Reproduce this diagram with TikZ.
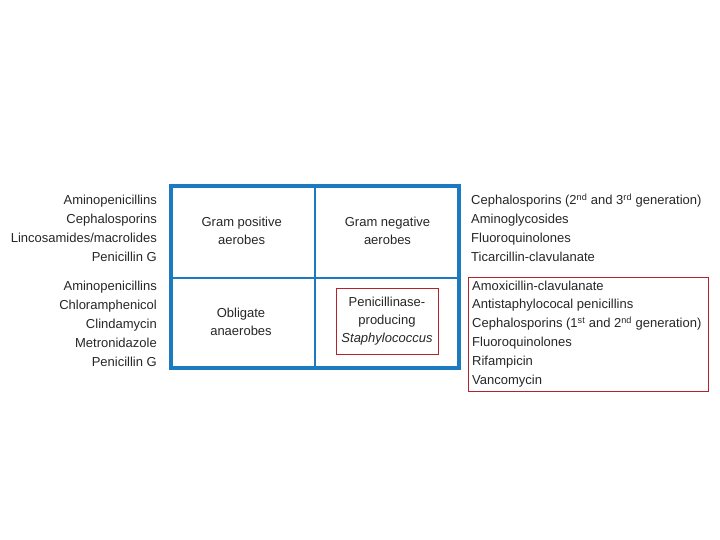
\documentclass[tikz,border=0pt]{standalone}
\usepackage{fontspec}
\setmainfont{Liberation Sans}
\definecolor{gridblue}{RGB}{28,122,192}
\definecolor{boxred}{RGB}{180,35,45}
\begin{document}
\begin{tikzpicture}[x=1pt,y=-1pt,
  txt/.style={font=\fontsize{13}{18}\selectfont, inner sep=0pt, text=black!85},
  lt/.style={txt, anchor=base east},
  rt/.style={txt, anchor=base west},
  ct/.style={txt, align=center, anchor=center},
  outer/.style={draw=gridblue, line width=4.3pt},
  inner/.style={draw=gridblue, line width=1.5pt},
  redbox/.style={draw=boxred, line width=0.8pt}]
\useasboundingbox (0,0) rectangle (720,540);
% grid
\coordinate (tl) at (171,186);
\coordinate (br) at (459,368);
\coordinate (mt) at (315,186);
\coordinate (mb) at (315,368);
\coordinate (ml) at (171,278);
\coordinate (mr) at (459,278);
\draw[inner] (mt) -- (mb);
\draw[inner] (ml) -- (mr);
\draw[outer] (tl) rectangle (br);
% cell texts
\node[ct] (gp) at (241.7,231) {Gram positive\\aerobes};
\node[ct] (gn) at (387.5,231) {Gram negative\\aerobes};
\node[ct] (oa) at (241,322) {Obligate\\anaerobes};
\node[ct] (ps) at (387,321.5) {Penicillinase-\\producing\\\textit{Staphylococcus}};
\draw[redbox] (336,288) rectangle (438,354);
% left lists
\node[lt] (a1) at (157,204.5) {Aminopenicillins};
\node[lt] (a2) at (157,223.5) {Cephalosporins};
\node[lt] (a3) at (157,242.5) {Lincosamides/macrolides};
\node[lt] (a4) at (157,261.5) {Penicillin G};
\node[lt] (b1) at (157,290) {Aminopenicillins};
\node[lt] (b2) at (157,309) {Chloramphenicol};
\node[lt] (b3) at (157,328) {Clindamycin};
\node[lt] (b4) at (157,347) {Metronidazole};
\node[lt] (b5) at (157,366) {Penicillin G};
% right lists
\node[rt] (c1) at (471,204.5) {Cephalosporins (2\textsuperscript{nd} and 3\textsuperscript{rd} generation)};
\node[rt] (c2) at (471,223.5) {Aminoglycosides};
\node[rt] (c3) at (471,242.5) {Fluoroquinolones};
\node[rt] (c4) at (471,261.5) {Ticarcillin-clavulanate};
\node[rt] (d1) at (472,290) {Amoxicillin-clavulanate};
\node[rt] (d2) at (472,308.8) {Antistaphylococal penicillins};
\node[rt] (d3) at (472,327.6) {Cephalosporins (1\textsuperscript{st} and 2\textsuperscript{nd} generation)};
\node[rt] (d4) at (472,346.4) {Fluoroquinolones};
\node[rt] (d5) at (472,365.2) {Rifampicin};
\node[rt] (d6) at (472,384) {Vancomycin};
\draw[redbox] (468.5,277) rectangle (708,391);
\end{tikzpicture}
\end{document}
